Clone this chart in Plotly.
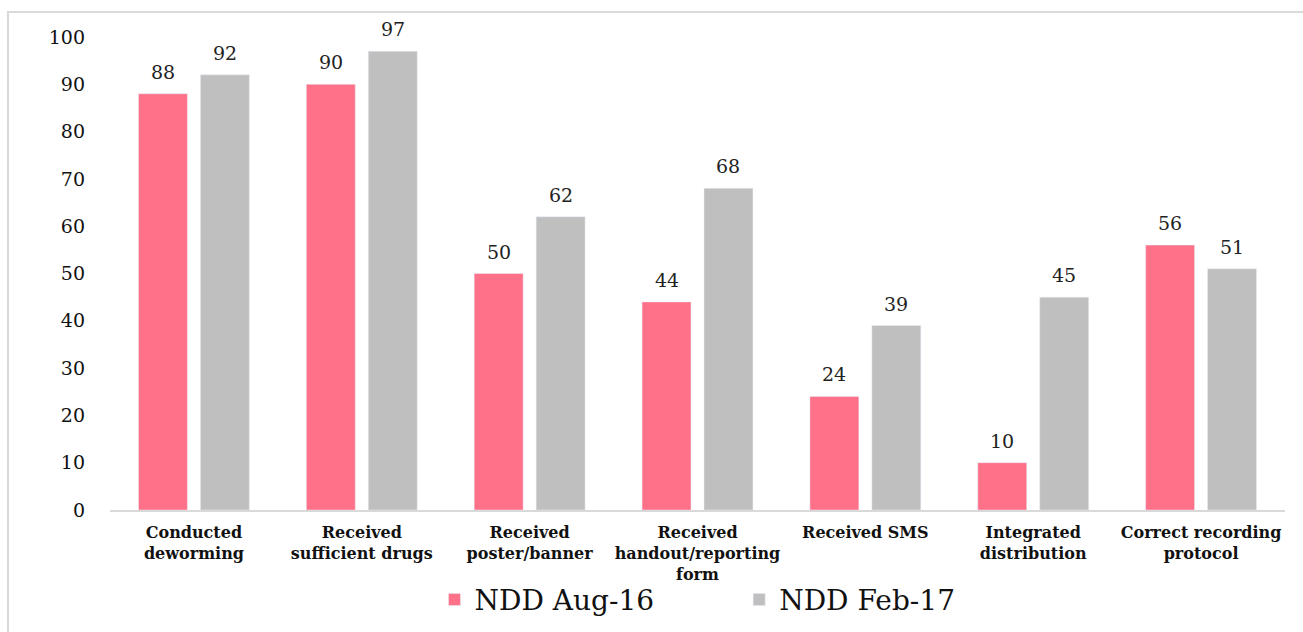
import plotly.graph_objects as go

categories = [
    "Conducted<br>deworming",
    "Received<br>sufficient drugs",
    "Received<br>poster/banner",
    "Received<br>handout/reporting<br>form",
    "Received SMS",
    "Integrated<br>distribution",
    "Correct recording<br>protocol",
]
aug16 = [88, 90, 50, 44, 24, 10, 56]
feb17 = [92, 97, 62, 68, 39, 45, 51]
series_names = ["NDD Aug-16", "NDD Feb-17"]
tick_vals = [0, 10, 20, 30, 40, 50, 60, 70, 80, 90, 100]
colors = ["#FF7089", "#BFBFBF"]

FONT = "DejaVu Serif"
L, R, T, B = 110, 18, 37, 122
W, H = 1303, 632
pw, ph = W - L - R, H - T - B
BARGAP = 0.262

fig = go.Figure()
for name, vals, col, pad in [(series_names[0], aug16, colors[0], "\u00a0" * 9),
                              (series_names[1], feb17, colors[1], "")]:
    fig.add_trace(go.Bar(x=categories, y=vals, name=name + pad, marker_color=col))

# value labels above bars
slot = pw / len(categories)
offset = slot * (1 - BARGAP) / 4
for sign, vals in [(-1, aug16), (1, feb17)]:
    for c, v in zip(categories, vals):
        fig.add_annotation(x=c, y=v, text=str(v), showarrow=False, xshift=sign * offset,
                           yanchor="bottom", yshift=9,
                           font=dict(family=FONT, size=19, color="#222222"))

fig.update_layout(
    width=W, height=H,
    margin=dict(l=L, r=R, t=T, b=B, autoexpand=False),
    paper_bgcolor="white", plot_bgcolor="white",
    barmode="group", bargap=BARGAP, bargroupgap=0.21,
    font=dict(family=FONT, color="#111111"),
    showlegend=True,
    legend=dict(orientation="h", x=0.5, xanchor="center", y=-0.19, yanchor="middle",
                bgcolor="rgba(0,0,0,0)",
                font=dict(family=FONT, size=28, color="#111111"), itemwidth=30),
    xaxis=dict(showline=True, linecolor="#D9D9D9", linewidth=2, showgrid=False,
               tickfont=dict(family=FONT, size=16, color="#111111"), ticks="",
               tickangle=0, automargin=False, ticklabelstandoff=7),
    yaxis=dict(range=[0, 100], tickvals=tick_vals, showgrid=False, zeroline=False,
               showline=False, ticks="", ticklabelstandoff=24, automargin=False,
               tickfont=dict(family=FONT, size=19, color="#111111")),
)
fig.update_xaxes(ticktext=["<b>" + c.replace("<br>", "</b><br><b>") + "</b>" for c in categories],
                 tickvals=categories)

# outer chart border
fig.add_shape(type="rect", xref="paper", yref="paper",
              x0=(8 - L) / pw, x1=(W + 10 - L) / pw,
              y0=(H - B - (H + 10)) / ph, y1=(H - B - 12) / ph,
              line=dict(color="#D9D9D9", width=2), fillcolor="rgba(0,0,0,0)", layer="below")

fig.write_html("out.html")
